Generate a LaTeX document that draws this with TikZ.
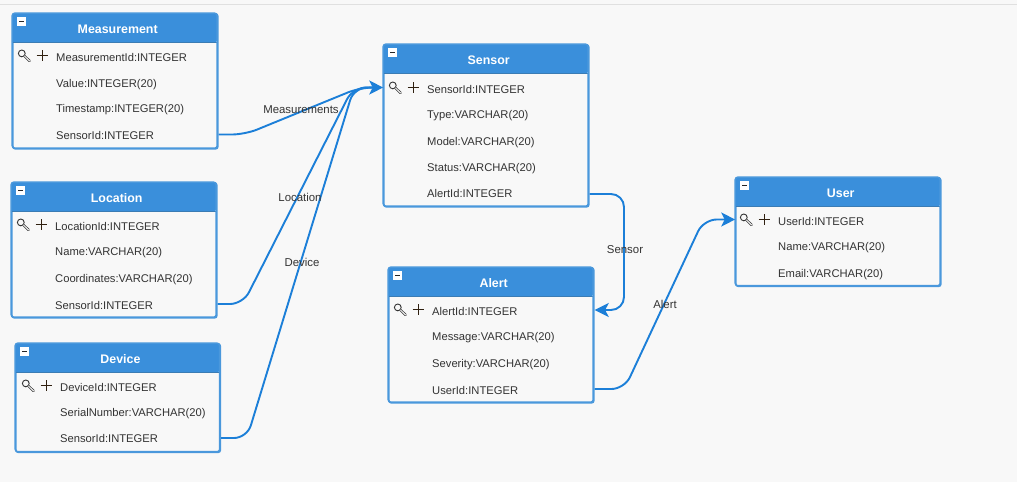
\documentclass[tikz,border=0pt]{standalone}
\usepackage{fontspec}
\setmainfont{Liberation Sans}
\usetikzlibrary{arrows.meta,calc}
\definecolor{hdr}{HTML}{3A8FDB}
\definecolor{edge}{HTML}{4A98DC}
\definecolor{conn}{HTML}{1C7FD8}
\definecolor{bg}{HTML}{F8F8F8}
\definecolor{txt}{HTML}{333333}
\tikzset{
  boxshape/.style={draw=edge,line width=1.5pt,fill=bg,rounded corners=2.5pt,minimum width=#1,inner sep=0pt,anchor=north west},
  rowtext/.style={anchor=base west,inner sep=0pt,text=txt,font=\fontsize{11.2}{13}\selectfont},
  titletext/.style={text=white,font=\bfseries\fontsize{12.4}{14}\selectfont,inner sep=0pt},
  linklabel/.style={text=txt,font=\fontsize{11.4}{13}\selectfont,inner sep=0pt},
  link/.style={draw=conn,line width=1.9pt,rounded corners=13pt},
  linkhead/.style={link,-{Stealth[length=14pt,width=14pt,inset=3.5pt]}},
}
% name, x, y, width, height, title
\newcommand{\erbox}[6]{%
  \node[boxshape=#4 pt,minimum height=#5 pt] (#1) at (#2,#3) {};
  \fill[hdr,rounded corners=2.5pt] (#2,#3+29) -- (#2,#3) -- (#2+#4,#3) -- (#2+#4,#3+29) [sharp corners] -- cycle;
  \draw[edge!80!black!90!hdr,line width=1pt] (#2,#3+29) -- (#2+#4,#3+29);
  \draw[edge,line width=1.5pt,rounded corners=2.5pt] (#2,#3) rectangle (#2+#4,#3+#5);
  \node[titletext] (#1title) at (#2+#4/2+3,#3+16.3) {#6};
  \fill[white] (#2+5,#3+3.8) rectangle +(8.7,8.7);
  \draw[black!85,line width=1.3pt] (#2+7,#3+8.1) -- +(4.7,0);
}
% name, x, y, text : plain row (y is the row's middle)
\newcommand{\errow}[4]{\node[rowtext] (#1) at (#2,#3+4) {#4};}
% key and plus icons, left of a row's text
\newcommand{\erkey}[3]{%
  \draw[black!80,line width=.9pt] (#1-34.2,#2-3.6) circle (3.4pt);
  \draw[black!80,line width=2.4pt,line cap=round] (#1-31.5,#2-1) -- (#1-26.4,#2+4);
  \draw[bg,line width=1pt,line cap=round] (#1-31.5,#2-1) -- (#1-26.4,#2+4);
  \draw[black!75!brown,line width=.9pt] (#1-19.5,#2-1.5) -- (#1-8.5,#2-1.5) (#1-14,#2-7) -- (#1-14,#2+4);
}
\begin{document}
\begin{tikzpicture}[x=1pt,y=-1pt]
\useasboundingbox (0,0) rectangle (1017,482);
\fill[bg] (0,0) rectangle (1017,482);
\draw[black!12,line width=1pt] (0,4.5) -- (1017,4.5);

\erbox{meas}{12.2}{13.2}{205}{135}{Measurement}
\erkey{56}{57}{}
\errow{m1}{56}{57}{MeasurementId:INTEGER}
\errow{m2}{56}{83}{Value:INTEGER(20)}
\errow{m3}{56}{108}{Timestamp:INTEGER(20)}
\errow{m4}{56}{135}{SensorId:INTEGER}

\erbox{loc}{11.2}{182.2}{205}{135}{Location}
\erkey{55}{226}{}
\errow{l1}{55}{226}{LocationId:INTEGER}
\errow{l2}{55}{251}{Name:VARCHAR(20)}
\errow{l3}{55}{278}{Coordinates:VARCHAR(20)}
\errow{l4}{55}{305}{SensorId:INTEGER}

\erbox{dev}{15.2}{343.2}{204.5}{108.5}{Device}
\erkey{60}{387}{}
\errow{d1}{60}{387}{DeviceId:INTEGER}
\errow{d2}{60}{412}{SerialNumber:VARCHAR(20)}
\errow{d3}{60}{438}{SensorId:INTEGER}

\erbox{sens}{383.2}{44.2}{205}{162}{Sensor}
\erkey{427}{89}{}
\errow{s1}{427}{89}{SensorId:INTEGER}
\errow{s2}{427}{114}{Type:VARCHAR(20)}
\errow{s3}{427}{141}{Model:VARCHAR(20)}
\errow{s4}{427}{167}{Status:VARCHAR(20)}
\errow{s5}{427}{193}{AlertId:INTEGER}

\erbox{alert}{388.2}{267.2}{205}{135}{Alert}
\erkey{432}{311}{}
\errow{a1}{432}{311}{AlertId:INTEGER}
\errow{a2}{432}{336}{Message:VARCHAR(20)}
\errow{a3}{432}{363}{Severity:VARCHAR(20)}
\errow{a4}{432}{390}{UserId:INTEGER}

\erbox{user}{735.2}{177.2}{205}{108.5}{User}
\erkey{778}{221}{}
\errow{u1}{778}{221}{UserId:INTEGER}
\errow{u2}{778}{246}{Name:VARCHAR(20)}
\errow{u3}{778}{273}{Email:VARCHAR(20)}

% connectors
\coordinate (stgt) at (sens.west |- 0,87.5);
\coordinate (atgt) at (alert.east |- 0,310);
\coordinate (utgt) at (user.west |- 0,219.5);
\path[link] (meas.east |- 0,134.5) -- (245,134.5) -- (360,87.5) -- (372,87.5);
\path[link] (loc.east |- 0,304) -- (243,304) -- (353,87.5) -- (372,87.5);
\path[link] (dev.east |- 0,438) -- (247,438) -- (354,87.5) -- (372,87.5);
\path[linkhead,rounded corners=0pt] (365,87.5) -- (stgt);
\path[linkhead] (sens.east |- 0,194) -- (624,194) -- (624,310) -- (atgt);
\path[linkhead] (alert.east |- 0,389) -- (624.4,389) -- (703.6,219.5) -- (utgt);

\node[linklabel] (lm) at (301,110) {Measurements};
\node[linklabel] (ll) at (300,197) {Location};
\node[linklabel] (ld) at (302,262) {Device};
\node[linklabel] (ls) at (625,249.5) {Sensor};
\node[linklabel] (la) at (665,304) {Alert};
\end{tikzpicture}
\end{document}
